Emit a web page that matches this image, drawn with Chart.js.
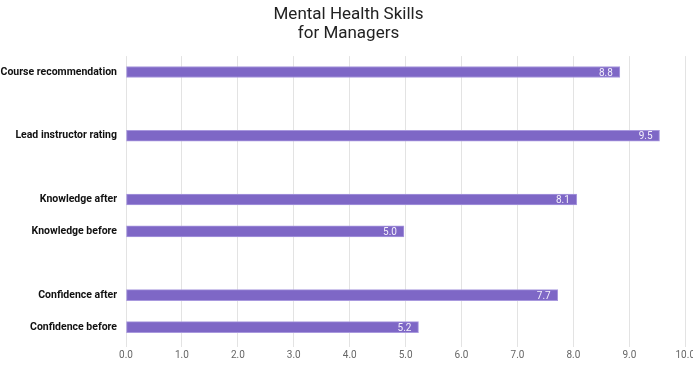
<!DOCTYPE html>
<html>
<head>
<meta charset="utf-8">
<script src="https://cdn.jsdelivr.net/npm/chart.js@4"></script>
<style>
  html, body { margin: 0; padding: 0; background: #fff; overflow: hidden; }
  #wrap { width: 697px; height: 365px; }
</style>
</head>
<body>
<div id="wrap"><canvas id="chart"></canvas></div>
<script>
// categories, top to bottom ('' = spacer rows)
var categories = ['Course recommendation', '', 'Lead instructor rating', '', 'Knowledge after', 'Knowledge before', '', 'Confidence after', 'Confidence before'];
var scores = [8.83, null, 9.54, null, 8.06, 4.97, null, 7.72, 5.23];
var xTicks = [0, 1, 2, 3, 4, 5, 6, 7, 8, 9, 10];

// value labels drawn inside the end of each bar
var barLabels = {
    id: 'barLabels',
    afterDatasetsDraw: function(chart) {
        var ctx = chart.ctx;
        var meta = chart.getDatasetMeta(0);
        ctx.save();
        ctx.font = '10px Roboto';
        ctx.fillStyle = '#f4f1fb';
        ctx.textAlign = 'right';
        ctx.textBaseline = 'middle';
        meta.data.forEach(function(bar, i) {
            var v = scores[i];
            if (v === null) return;
            ctx.fillText(v.toFixed(1), bar.x - 7, bar.y + 1);
        });
        ctx.restore();
    }
};

var c = document.getElementById('chart').getContext('2d');
var chart = new Chart(c, {
    type: 'bar',
    data: {
        labels: categories,
        datasets: [{
            data: scores,
            backgroundColor: '#7e67c6',
            borderColor: '#a999de',
            borderWidth: 1,
            borderSkipped: false,
            barThickness: 11
        }]
    },
    options: {
        indexAxis: 'y',
        responsive: true,
        maintainAspectRatio: false,
        animation: false,
        layout: { padding: { left: 0, right: 0, top: 0, bottom: 2 } },
        plugins: {
            legend: { display: false },
            tooltip: { enabled: false },
            title: {
                display: true,
                text: ['Mental Health Skills', 'for Managers'],
                color: '#222',
                font: { family: 'Roboto', size: 17, weight: 'normal', lineHeight: 1.12 },
                padding: { top: 5, bottom: 13 }
            }
        },
        scales: {
            x: {
                min: 0,
                max: 10,
                afterBuildTicks: function(scale) {
                    scale.ticks = xTicks.map(function(v) { return { value: v }; });
                },
                grid: { color: '#e3e3e3', lineWidth: 1, tickLength: 4, drawTicks: true },
                border: { display: false },
                ticks: {
                    color: '#666',
                    font: { family: 'Roboto', size: 10 },
                    padding: 2,
                    callback: function(v) { return Number(v).toFixed(1); }
                }
            },
            y: {
                grid: { display: false, drawTicks: false },
                border: { display: false },
                ticks: {
                    color: '#111',
                    font: { family: 'Roboto', size: 10.5, weight: 'bold' },
                    padding: 9
                },
                afterFit: function(scale) { scale.width = 126; }
            }
        }
    },
    plugins: [barLabels]
});
</script>
</body>
</html>
